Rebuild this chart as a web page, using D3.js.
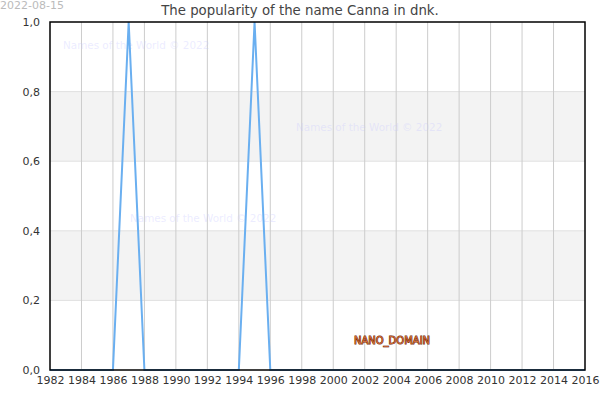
<!DOCTYPE html>
<html><head><meta charset="utf-8">
<script src="https://cdn.jsdelivr.net/npm/d3@7"></script>
<style>body{margin:0;background:#fff}svg{display:block;font-family:"DejaVu Sans",sans-serif}</style>
</head><body><svg id="c" width="600" height="400"></svg>
<script>
const years = d3.range(1982, 2017);
const peakYears = [1987, 1995];
const values = years.map(y => peakYears.includes(y) ? 1 : 0);
const xTicks = d3.range(1982, 2017, 2);
const yTicks = [0, 0.2, 0.4, 0.6, 0.8, 1.0];
const bands = [[0.2, 0.4], [0.6, 0.8]];
const title = "The popularity of the name Canna in dnk.";
const dateLabel = "2022-08-15";
const watermarks = [[63, 45], [296, 127], [130, 218]];

const svg = d3.select("#c");
const L = 50, R = 585, T = 22, B = 370;
const x = d3.scaleLinear().domain([1982, 2016]).range([L, R]);
const y = d3.scaleLinear().domain([0, 1]).range([B, T]);

svg.selectAll("rect.band").data(bands).enter().append("rect")
  .attr("x", L).attr("width", R - L)
  .attr("y", d => y(d[1])).attr("height", d => y(d[0]) - y(d[1]))
  .attr("fill", "#f3f3f3");
svg.selectAll("line.hg").data(yTicks.slice(1, -1)).enter().append("line")
  .attr("x1", L).attr("x2", R).attr("y1", d => y(d)).attr("y2", d => y(d))
  .attr("stroke", "#e0e0e0").attr("stroke-width", 1);
svg.selectAll("line.vg").data(xTicks.slice(1, -1)).enter().append("line")
  .attr("x1", d => x(d)).attr("x2", d => x(d)).attr("y1", T).attr("y2", B)
  .attr("stroke", "#cccccc").attr("stroke-width", 1);

svg.selectAll("text.wm").data(watermarks).enter().append("text")
  .attr("x", d => d[0]).attr("y", d => d[1]).attr("dy", "0.35em")
  .attr("font-size", 10.4).attr("fill", "rgba(200,200,255,0.35)")
  .text("Names of the World © 2022");

svg.append("path").datum(years.map((yr, i) => [yr, values[i]]))
  .attr("fill", "none").attr("stroke", "#6aaff0").attr("stroke-width", 2)
  .attr("d", d3.line().x(d => x(d[0])).y(d => y(d[1])));

svg.append("rect").attr("x", L).attr("y", T).attr("width", R - L).attr("height", B - T)
  .attr("fill", "none").attr("stroke", "#000").attr("stroke-width", 1.5);

const xa = svg.append("g").attr("transform", `translate(0,${B})`)
  .call(d3.axisBottom(x).tickValues(xTicks).tickFormat(d3.format("d")).tickSize(0).tickPadding(6));
const ya = svg.append("g").attr("transform", `translate(${L},0)`)
  .call(d3.axisLeft(y).tickValues(yTicks).tickFormat(d => d3.format(".1f")(d).replace(".", ",")).tickSize(0).tickPadding(10));
[xa, ya].forEach(a => {
  a.select(".domain").remove();
  a.selectAll("text").attr("font-size", 11).attr("fill", "#333").attr("font-family", "DejaVu Sans, sans-serif");
});

svg.append("text").attr("x", 300).attr("y", 15).attr("text-anchor", "middle")
  .attr("font-size", 13.3).attr("fill", "#444").text(title);
svg.append("text").attr("x", 0).attr("y", 9).attr("font-size", 11).attr("fill", "#bbb").text(dateLabel);

svg.append("text").attr("x", 392).attr("y", 340).attr("dy", "0.35em").attr("text-anchor", "middle")
  .attr("font-size", 10).attr("fill", "#d0703c")
  .attr("stroke", "#6e2000").attr("stroke-width", 0.9).attr("paint-order", "stroke")
  .text("NANO_DOMAIN");
</script></body></html>
